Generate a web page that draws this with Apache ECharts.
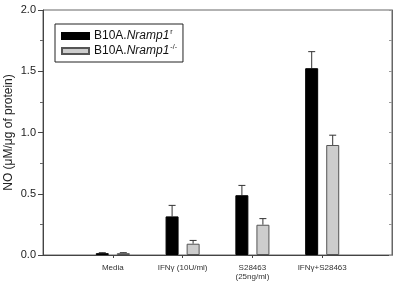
<!DOCTYPE html>
<html>
<head>
<meta charset="utf-8">
<script src="https://cdn.jsdelivr.net/npm/echarts@6/dist/echarts.min.js"></script>
<style>
  html, body { margin: 0; padding: 0; background: #fff; }
  #chart { width: 401px; height: 287px; }
</style>
</head>
<body>
<div id="chart"></div>
<script>
// values
var categories = ["Media", "IFN\u03b3 (10U/ml)", "S28463\n(25ng/ml)", "IFN\u03b3+S28463"];
var wtValues = [0.015, 0.315, 0.488, 1.525];
var wtErrors = [0.004, 0.09, 0.08, 0.135];
var koValues = [0.015, 0.092, 0.247, 0.898];
var koErrors = [0.004, 0.027, 0.05, 0.08];
var yTicks = [0, 0.5, 1.0, 1.5, 2.0];

var chart = echarts.init(document.getElementById("chart"));

// pad with empty slots at both ends so the frame spans 0..5
var axisCats = [""].concat(categories, [""]);
function pad(arr) {
  return [null].concat(arr, [null]);
}
function errData(vals, errs) {
  var out = [];
  for (var i = 0; i < vals.length; i++) {
    out.push([i + 1, vals[i], vals[i] + errs[i]]);
  }
  return out;
}

var font = "Liberation Sans, Arial, sans-serif";
var barW = 13;
var off = 10.5; // half distance between the two bar centres

function errorBar(shift) {
  return function (params, api) {
    var top = api.coord([api.value(0), api.value(2)]);
    var base = api.coord([api.value(0), api.value(1)]);
    var x = top[0] + shift;
    return {
      type: "group",
      children: [
        { type: "line", shape: { x1: x, y1: base[1], x2: x, y2: top[1] }, style: { stroke: "#333", lineWidth: 1 } },
        { type: "line", shape: { x1: x - 3.5, y1: top[1], x2: x + 3.5, y2: top[1] }, style: { stroke: "#333", lineWidth: 1 } }
      ]
    };
  };
}

var option = {
  animation: false,
  textStyle: { fontFamily: font },
  grid: {
    left: 43, right: 9, top: 10, bottom: 32,
    outerBoundsMode: "none",
    containLabel: false,
    show: true, borderColor: "#666", borderWidth: 1
  },
  legend: {
    left: 55, top: 24,
    orient: "vertical",
    data: ["wt", "ko"],
    icon: "rect",
    itemWidth: 27, itemHeight: 6, itemGap: 2,
    padding: [5, 6, 5, 6],
    borderColor: "#222", borderWidth: 1,
    formatter: function (name) {
      return name === "wt" ? "B10A.{i|Nramp1}{sup|r}" : "B10A.{i|Nramp1}{sup|-/-}";
    },
    textStyle: {
      fontSize: 12, color: "#111", fontFamily: font,
      rich: {
        i: { fontStyle: "italic", fontSize: 12, fontFamily: font, color: "#111" },
        sup: { fontSize: 7, fontFamily: font, color: "#111", padding: [0, 0, 7, 1] }
      }
    }
  },
  xAxis: {
    type: "category",
    data: axisCats,
    boundaryGap: false,
    axisLine: { lineStyle: { color: "#444" } },
    axisTick: {
      alignWithLabel: true, length: 3,
      interval: function (i) { return i > 0 && i < axisCats.length - 1; },
      lineStyle: { color: "#444" }
    },
    axisLabel: { fontSize: 8, color: "#333", margin: 8, lineHeight: 9, interval: 0 },
    splitLine: { show: false }
  },
  yAxis: [
    {
      type: "value",
      min: yTicks[0], max: yTicks[yTicks.length - 1], interval: 0.5,
      name: "NO (\u03bcM/\u03bcg of protein)",
      nameLocation: "middle", nameGap: 28, nameMoveOverlap: false,
      nameTextStyle: { fontSize: 12, color: "#222", fontFamily: font },
      axisLine: { show: true, lineStyle: { color: "#444" } },
      axisTick: { show: true, length: 5, lineStyle: { color: "#444" } },
      minorTick: { show: true, splitNumber: 2, length: 3, lineStyle: { color: "#666" } },
      axisLabel: {
        fontSize: 11, color: "#222", margin: 7,
        formatter: function (v) { return v.toFixed(1); }
      },
      splitLine: { show: false }
    },
    {
      type: "value", position: "right",
      min: yTicks[0], max: yTicks[yTicks.length - 1], interval: 0.5,
      axisLine: { show: true, lineStyle: { color: "#666" } },
      axisTick: { show: true, inside: true, length: 3, lineStyle: { color: "#999" } },
      minorTick: { show: true, splitNumber: 2, length: 3, lineStyle: { color: "#999" } },
      axisLabel: { show: false },
      splitLine: { show: false }
    }
  ],
  series: [
    {
      name: "wt", type: "bar", data: pad(wtValues),
      barWidth: barW, barGap: "62%",
      itemStyle: { color: "#000", borderColor: "#000", borderWidth: 1 }
    },
    {
      name: "ko", type: "bar", data: pad(koValues),
      barWidth: barW,
      itemStyle: { color: "#cdcdcd", borderColor: "#555", borderWidth: 1 }
    },
    {
      type: "custom", data: errData(wtValues, wtErrors),
      renderItem: errorBar(-off), z: 1, silent: true
    },
    {
      type: "custom", data: errData(koValues, koErrors),
      renderItem: errorBar(off), z: 1, silent: true
    }
  ]
};

chart.setOption(option);
</script>
</body>
</html>
